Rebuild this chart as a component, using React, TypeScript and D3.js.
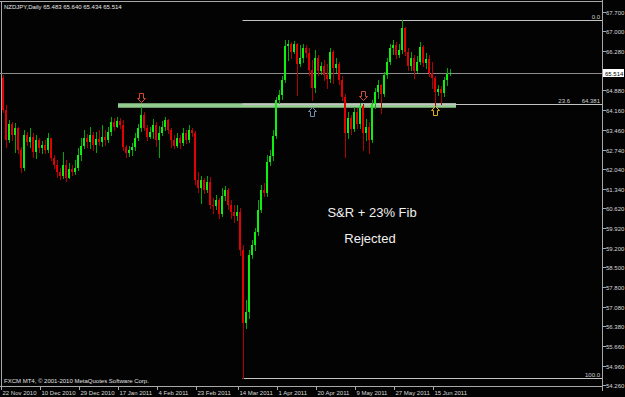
import React from 'react';
import * as d3 from 'd3';

const symbolTitle = 'NZDJPY,Daily  65.483 65.640 65.434 65.514';
const footerText = 'FXCM MT4, \u00a9 2001-2010 MetaQuotes Software Corp.';

const firstOpen = 65.32;
const closes = [
  64.17, 63.09, 63.67, 63.27, 63.52, 62.73, 62.08, 63.27, 63.02, 63.20,
  62.66, 63.09, 62.80, 62.91, 62.73, 63.16, 62.44, 62.19, 61.94, 61.79,
  62.19, 61.72, 62.05, 61.94, 62.08, 62.55, 62.87, 63.16, 63.02, 63.27,
  62.91, 63.13, 63.02, 63.20, 63.09, 63.38, 63.74, 63.56, 63.77, 63.63,
  62.84, 62.62, 62.73, 62.84, 63.16, 63.52, 63.99, 63.52, 63.20, 63.38,
  63.63, 63.09, 63.34, 63.56, 63.81, 63.45, 63.09, 62.87, 63.16, 62.98,
  63.34, 63.09, 63.45, 63.34, 61.65, 61.36, 61.65, 61.29, 61.58, 60.75,
  60.71, 60.93, 60.43, 61.07, 61.29, 60.75, 60.50, 60.35, 60.50, 59.13,
  56.50, 56.90, 58.95, 59.31, 59.78, 60.57, 61.29, 61.18, 62.30, 62.51,
  63.23, 64.53, 64.71, 65.25, 66.47, 66.55, 66.26, 66.55, 65.83, 66.04,
  66.40, 66.22, 65.61, 64.96, 66.04, 65.57, 65.75, 65.43, 65.29, 66.26,
  65.68, 65.83, 65.25, 64.64, 63.34, 63.88, 63.49, 64.10, 63.67, 64.31,
  63.34, 63.56, 63.09, 64.39, 64.82, 65.07, 64.75, 65.43, 65.90, 66.40,
  66.51, 66.15, 66.33, 67.12, 66.26, 65.75, 66.04, 65.57, 65.90, 66.44,
  65.86, 66.01, 65.50, 65.32, 64.82, 64.93, 64.78, 65.25, 65.483, 65.514,
];
const highs = [
  65.43, 64.35, 63.81, 63.74, 63.70, 63.56, 62.84, 63.45, 63.38, 63.52,
  63.34, 63.27, 63.16, 63.05, 63.09, 63.34, 63.09, 62.55, 62.37, 62.08,
  62.66, 62.37, 62.26, 62.19, 62.37, 62.80, 63.16, 63.45, 63.31, 63.56,
  63.38, 63.38, 63.45, 63.63, 63.45, 63.56, 63.92, 63.88, 63.92, 63.88,
  63.81, 62.91, 62.87, 62.98, 63.34, 63.67, 64.28, 64.10, 63.63, 63.56,
  63.85, 63.74, 63.59, 63.77, 63.92, 63.85, 63.52, 63.27, 63.34, 63.27,
  63.52, 63.45, 63.63, 63.52, 63.41, 61.94, 61.79, 61.72, 61.79, 61.76,
  61.00, 61.11, 61.00, 61.36, 61.43, 61.36, 60.93, 60.75, 60.75, 60.64,
  59.31, 57.33, 59.13, 59.49, 59.92, 60.93, 61.47, 61.54, 62.55, 62.73,
  63.45, 64.64, 64.89, 65.39, 66.69, 66.69, 66.62, 66.65, 66.58, 66.51,
  66.55, 66.51, 66.40, 65.97, 66.33, 66.15, 65.90, 65.97, 65.83, 66.40,
  66.33, 66.04, 65.90, 65.39, 64.75, 64.10, 63.99, 64.28, 64.24, 64.42,
  64.39, 63.85, 63.74, 64.53, 64.96, 65.25, 65.11, 65.54, 66.04, 66.55,
  66.69, 66.62, 66.55, 67.424, 67.16, 66.40, 66.26, 66.15, 66.11, 66.62,
  66.51, 66.22, 66.15, 65.90, 65.39, 65.07, 65.03, 65.36, 65.68, 65.64,
];
const lows = [
  64.10, 62.84, 63.02, 63.09, 62.66, 62.62, 61.94, 62.01, 62.91, 62.84,
  62.48, 62.44, 62.66, 62.62, 62.62, 62.66, 62.37, 62.08, 61.76, 61.69,
  61.72, 61.61, 61.79, 61.83, 61.87, 62.01, 62.37, 62.80, 62.84, 62.80,
  62.73, 62.66, 62.91, 62.87, 62.91, 63.02, 63.27, 63.45, 63.56, 63.52,
  62.73, 62.48, 62.51, 62.55, 62.73, 63.09, 63.41, 63.45, 63.09, 63.16,
  63.16, 62.87, 62.48, 63.27, 63.45, 63.34, 62.84, 62.80, 62.84, 62.80,
  62.91, 62.98, 63.02, 63.23, 61.51, 61.22, 60.82, 61.18, 61.22, 60.64,
  60.46, 60.61, 60.28, 60.35, 60.93, 60.61, 60.28, 60.14, 60.21, 58.95,
  54.53, 56.32, 56.68, 58.84, 59.13, 59.67, 60.50, 61.07, 61.07, 62.19,
  62.37, 63.16, 64.42, 64.57, 65.18, 65.97, 66.04, 66.22, 64.71, 65.75,
  65.90, 66.08, 65.43, 64.53, 64.82, 65.43, 65.47, 65.25, 64.96, 65.18,
  65.14, 65.54, 65.11, 64.53, 62.48, 63.16, 63.31, 63.41, 63.52, 63.52,
  62.73, 63.09, 62.62, 63.02, 64.24, 64.60, 64.06, 64.67, 65.32, 65.83,
  66.19, 66.04, 66.08, 66.22, 66.15, 65.61, 65.61, 65.32, 65.54, 65.83,
  65.75, 65.68, 65.39, 64.96, 64.31, 64.71, 64.39, 64.67, 65.07, 65.434,
];

const dateLabels = [
  '22 Nov 2010', '10 Dec 2010', '29 Dec 2010', '17 Jan 2011', '4 Feb 2011', '23 Feb 2011',
  '14 Mar 2011', '1 Apr 2011', '20 Apr 2011', '9 May 2011', '27 May 2011', '15 Jun 2011',
];
const dateIdx = [0, 13, 26, 39, 52, 65, 79, 92, 105, 118, 131, 144];

const priceTicks = [
  67.7, 67.0, 66.28, 64.88, 64.16, 63.46, 62.74, 62.04, 61.34, 60.62,
  59.92, 59.2, 58.5, 57.8, 57.08, 56.38, 55.66, 54.96, 54.26,
];
const bidPrice = 65.514;

const fibHigh = 67.424;
const fibLow = 54.53;
const fibStartIdx = 80;
const fibLevels = [0, 23.6, 100];

const srLevel = 64.34;
const srStartIdx = 39;
const srEndIdx = 151;

const arrowIdx = [46, 120, 103, 144];
const arrowPrice = [64.46, 64.53, 64.28, 64.31];
const arrowDir = ['down', 'down', 'up', 'up'];
const arrowColor = ['#d8482a', '#c8503a', '#6f8fb0', '#e0b020'];

const noteLines = ['S&R + 23% Fib', 'Rejected'];

const W = 625;
const H = 397;
const PLOT_RIGHT = 602;
const PLOT_BOTTOM = 387;
const SMALL_FONT = 'Liberation Sans, Arial, sans-serif';

export default function App() {
  const x = d3.scaleLinear().domain([0, 1]).range([3, 6]);
  const y = d3.scaleLinear().domain([54.26, 67.7]).range([385, 12]);

  const candles = closes.map((c, i) => {
    const o = i === 0 ? firstOpen : closes[i - 1];
    return { o, c, h: Math.max(highs[i], o, c), l: Math.min(lows[i], o, c), i };
  });

  const fibY = (lvl: number) => Math.round(y(fibHigh - (lvl / 100) * (fibHigh - fibLow))) + 0.5;
  const fibX0 = Math.round(x(fibStartIdx)) - 0.5;

  const arrowPath = (cx: number, ty: number, dir: string) => {
    const s = dir === 'down' ? -1 : 1;
    const pts = [
      [cx, ty],
      [cx + 4, ty + 4 * s],
      [cx + 2, ty + 4 * s],
      [cx + 2, ty + 9 * s],
      [cx - 2, ty + 9 * s],
      [cx - 2, ty + 4 * s],
      [cx - 4, ty + 4 * s],
    ];
    return 'M' + pts.map((p) => p.join(',')).join('L') + 'Z';
  };

  const srY = y(srLevel);
  const bidY = Math.round(y(bidPrice)) + 0.5;

  return (
    <div style={{ position: 'fixed', left: 0, top: 0, width: W, height: H, background: '#000' }}>
      <svg width={W} height={H} style={{ display: 'block' }}>
        <rect x={0} y={0} width={W} height={H} fill="#030303" />

        {/* frame */}
        <line x1={0} x2={PLOT_RIGHT} y1={1.5} y2={1.5} stroke="#a8a8a8" />
        <line x1={1.5} x2={1.5} y1={1} y2={PLOT_BOTTOM} stroke="#a8a8a8" />
        <line x1={PLOT_RIGHT + 0.5} x2={PLOT_RIGHT + 0.5} y1={0} y2={PLOT_BOTTOM + 4} stroke="#a8a8a8" />
        <line x1={0} x2={PLOT_RIGHT + 1} y1={PLOT_BOTTOM - 0.5} y2={PLOT_BOTTOM - 0.5} stroke="#a8a8a8" />

        {/* S&R band */}
        <rect x={Math.round(x(srStartIdx)) - 2} y={srY - 2} width={x(srEndIdx) - x(srStartIdx) + 2} height={4.5} fill="#92cc8e" />
        <rect x={fibX0} y={srY - 2} width={x(srEndIdx) - fibX0} height={2} fill="#b4bab4" />

        {/* fib levels */}
        {fibLevels.map((lvl) => (
          <line key={lvl} x1={fibX0} x2={PLOT_RIGHT} y1={fibY(lvl)} y2={fibY(lvl)} stroke="#c4c4c4" />
        ))}
        <text x={600} y={fibY(0) - 2} fontSize={6} fontFamily={SMALL_FONT} fill="#d0d0d0" textAnchor="end">0.0</text>
        <text x={570} y={fibY(23.6) - 2} fontSize={6} fontFamily={SMALL_FONT} fill="#d0d0d0" textAnchor="end">23.6</text>
        <text x={600} y={fibY(23.6) - 2} fontSize={6} fontFamily={SMALL_FONT} fill="#d0d0d0" textAnchor="end">
          {(fibHigh - 0.236 * (fibHigh - fibLow)).toFixed(3)}
        </text>
        <text x={600} y={fibY(100) - 2} fontSize={6} fontFamily={SMALL_FONT} fill="#d0d0d0" textAnchor="end">100.0</text>

        {/* bid line */}
        <line x1={0} x2={PLOT_RIGHT} y1={bidY} y2={bidY} stroke="#8c8c8c" />

        {/* candles */}
        {candles.map((d) => {
          const cx = Math.round(x(d.i));
          const up = d.c >= d.o;
          const top = Math.round(y(Math.max(d.o, d.c)));
          const bot = Math.round(y(Math.min(d.o, d.c)));
          return (
            <g key={d.i}>
              <line
                x1={cx + 0.5}
                x2={cx + 0.5}
                y1={Math.round(y(d.h))}
                y2={Math.round(y(d.l)) + 1}
                stroke={up ? '#00a800' : '#b00000'}
              />
              <rect x={cx - 1} y={top} width={2} height={Math.max(1, bot - top)} fill={up ? '#10f010' : '#e20000'} />
            </g>
          );
        })}

        {/* arrows */}
        {arrowIdx.map((ai, k) => (
          <path
            key={k}
            d={arrowPath(Math.round(x(ai)) + 0.5, Math.round(y(arrowPrice[k])) + 0.5, arrowDir[k])}
            fill="#000"
            stroke={arrowColor[k]}
            strokeWidth={1}
          />
        ))}

        {/* notes */}
        <text x={372} y={217} fontSize={13} fontFamily="Liberation Sans, Arial, sans-serif" fill="#f0f0f0" textAnchor="middle">
          {noteLines[0]}
        </text>
        <text x={370} y={243} fontSize={13} fontFamily="Liberation Sans, Arial, sans-serif" fill="#f0f0f0" textAnchor="middle">
          {noteLines[1]}
        </text>

        {/* title & footer */}
        <text x={4} y={8.5} fontSize={6} fontFamily={SMALL_FONT} fill="#e8e8e8">{symbolTitle}</text>
        <text x={4} y={383} fontSize={6} fontFamily={SMALL_FONT} fill="#e0e0e0">{footerText}</text>

        {/* price axis */}
        {priceTicks.map((p) => {
          const py = Math.round(y(p)) + 0.5;
          return (
            <g key={p}>
              <line x1={PLOT_RIGHT + 1} x2={PLOT_RIGHT + 4} y1={py} y2={py} stroke="#a8a8a8" />
              <text x={606} y={py + 2} fontSize={6} fontFamily={SMALL_FONT} fill="#d8d8d8">{p.toFixed(3)}</text>
            </g>
          );
        })}
        <rect x={PLOT_RIGHT + 1} y={bidY - 4.5} width={21} height={8} fill="#ffffff" />
        <text x={605} y={bidY + 2} fontSize={6} fontFamily={SMALL_FONT} fill="#000">{bidPrice.toFixed(3)}</text>

        {/* time axis */}
        {dateLabels.map((lab, k) => {
          const tx = Math.round(x(dateIdx[k])) - 1.5;
          return (
            <g key={lab}>
              <line x1={tx} x2={tx} y1={PLOT_BOTTOM} y2={PLOT_BOTTOM + 3} stroke="#a8a8a8" />
              <text x={tx + 1} y={395} fontSize={6} fontFamily={SMALL_FONT} fill="#d8d8d8">{lab}</text>
            </g>
          );
        })}
      </svg>
    </div>
  );
}
